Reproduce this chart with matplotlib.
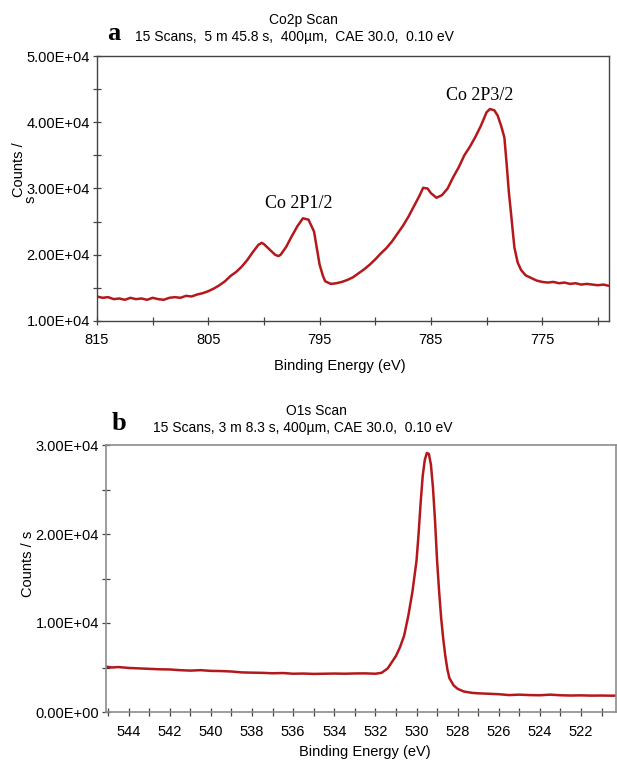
import matplotlib
matplotlib.use("Agg")
import matplotlib.pyplot as plt
from matplotlib.ticker import MultipleLocator, FuncFormatter

# ---- Co2p spectrum (binding energy eV, counts/s) ----
co_energy = [815, 814.5, 814, 813.5, 813, 812.5, 812, 811.5, 811, 810.5, 810,
             809.5, 809, 808.5, 808, 807.5, 807, 806.5, 806, 805.5, 805,
             804.5, 804, 803.5, 803, 802.5, 802, 801.5, 801, 800.5, 800.2,
             800, 799.5, 799, 798.7, 798.5, 798, 797.5, 797, 796.5, 796,
             795.5, 795.2, 795, 794.7, 794.5, 794, 793.5, 793, 792.5, 792,
             791.5, 791, 790.5, 790, 789.5, 789, 788.5, 788, 787.5, 787,
             786.5, 786, 785.7, 785.3, 785, 784.5, 784, 783.5, 783, 782.5,
             782, 781.5, 781, 780.5, 780, 779.7, 779.3, 779, 778.7, 778.4,
             778.2, 778, 777.8, 777.5, 777.2, 776.9, 776.5, 776, 775.5, 775,
             774.5, 774, 773.5, 773, 772.5, 772, 771.5, 771, 770.5, 770,
             769.5, 769]
co_counts = [13700, 13500, 13600, 13300, 13400, 13200, 13500, 13300, 13400,
             13200, 13500, 13300, 13200, 13500, 13600, 13500, 13800, 13700,
             14000, 14200, 14500, 14900, 15400, 16000, 16800, 17400, 18200,
             19200, 20400, 21500, 21800, 21600, 20800, 20000, 19800, 20000,
             21200, 22800, 24300, 25500, 25300, 23500, 20500, 18500, 16800,
             16000, 15600, 15700, 15900, 16200, 16600, 17200, 17800, 18500,
             19300, 20200, 21000, 22000, 23200, 24400, 25800, 27400, 29000,
             30100, 30000, 29300, 28600, 29000, 30000, 31700, 33200, 35000,
             36300, 37800, 39500, 41500, 42000, 41800, 41000, 39500, 37700,
             33800, 29500, 26200, 21100, 18800, 17700, 16900, 16500, 16100,
             15900, 15800, 15900, 15700, 15800, 15600, 15700, 15500, 15600,
             15500, 15400, 15500, 15300]

# ---- O1s spectrum ----
o_energy = [545.1, 544.8, 544.5, 544, 543.5, 543, 542.5, 542, 541.5, 541,
            540.5, 540, 539.5, 539, 538.5, 538, 537.5, 537, 536.5, 536,
            535.5, 535, 534.5, 534, 533.5, 533, 532.5, 532, 531.7, 531.4,
            531.2, 531.0, 530.8, 530.6, 530.4, 530.2, 530.0, 529.9, 529.8,
            529.7, 529.6, 529.5, 529.4, 529.3, 529.2, 529.1, 529.0, 528.9,
            528.8, 528.7, 528.6, 528.5, 528.4, 528.2, 528.0, 527.7, 527.3,
            527, 526.5, 526, 525.5, 525, 524.5, 524, 523.5, 523, 522.5, 522,
            521.5, 521, 520.5, 520.3]
o_counts = [5100, 5000, 5050, 4950, 4900, 4850, 4800, 4780, 4700, 4650,
            4700, 4620, 4600, 4550, 4450, 4420, 4400, 4350, 4380, 4300,
            4320, 4280, 4300, 4320, 4300, 4330, 4340, 4300, 4400, 4900,
            5600, 6300, 7300, 8600, 10800, 13500, 17000, 20000, 23500,
            26500, 28300, 29100, 29000, 27800, 25200, 21500, 17000, 13500,
            10500, 8200, 6300, 4800, 3800, 3000, 2600, 2300, 2150,
            2100, 2050, 2000, 1900, 1950, 1900, 1880, 1950, 1880, 1850, 1870,
            1840, 1850, 1830, 1840]

line_color = "#b3191c"
sans = "Liberation Sans"
serif = "Liberation Serif"
W, H = 617, 762


def sci(v, pos):
    return f"{v:.2E}"


fig = plt.figure(figsize=(W / 100, H / 100), dpi=100)
fig.patch.set_facecolor("white")

# panel a
ax1 = fig.add_axes([97 / W, 1 - 321 / H, (609 - 97) / W, (321 - 56) / H])
ax1.plot(co_energy, co_counts, color=line_color, lw=1.8)
ax1.set_xlim(815, 769)
ax1.set_ylim(10000, 50000)
ax1.xaxis.set_major_locator(MultipleLocator(10, offset=5))
ax1.xaxis.set_minor_locator(MultipleLocator(5))
ax1.yaxis.set_major_locator(MultipleLocator(10000))
ax1.yaxis.set_minor_locator(MultipleLocator(5000))
ax1.yaxis.set_major_formatter(FuncFormatter(sci))
for s in ax1.spines.values():
    s.set_color("#444444")
    s.set_linewidth(1.0)
ax1.text(796.9, 27700, "Co 2P1/2", family=serif, fontsize=13,
         ha="center", va="center")
ax1.text(780.6, 44000, "Co 2P3/2", family=serif, fontsize=13,
         ha="center", va="center")

# panel b
ax2 = fig.add_axes([106 / W, 1 - 712 / H, (616 - 106) / W, (712 - 445) / H])
ax2.plot(o_energy, o_counts, color=line_color, lw=1.8)
ax2.set_xlim(545.1, 520.3)
ax2.set_ylim(0, 30000)
ax2.xaxis.set_major_locator(MultipleLocator(2))
ax2.xaxis.set_minor_locator(MultipleLocator(1))
ax2.yaxis.set_major_locator(MultipleLocator(10000))
ax2.yaxis.set_minor_locator(MultipleLocator(5000))
ax2.yaxis.set_major_formatter(FuncFormatter(sci))
for s in ax2.spines.values():
    s.set_color("#8c8c8c")
    s.set_linewidth(1.2)

for ax in (ax1, ax2):
    ax.tick_params(which="both", direction="inout", length=6, width=0.9,
                   color="#444444", labelsize=10.5)
    ax.tick_params(axis="y", pad=2)
    ax.tick_params(axis="x", pad=6)
    for lab in ax.get_xticklabels() + ax.get_yticklabels():
        lab.set_family(sans)

# titles and labels
fig.text(303 / W, 1 - 20 / H, "Co2p Scan", family=sans, fontsize=10,
         ha="center", va="center")
fig.text(294 / W, 1 - 37 / H,
         "15 Scans,  5 m 45.8 s,  400µm,  CAE 30.0,  0.10 eV",
         family=sans, fontsize=10, ha="center", va="center")
fig.text(114 / W, 1 - 33 / H, "a", family=serif, fontsize=19,
         fontweight="bold", ha="center", va="center")
fig.text(340 / W, 1 - 366 / H, "Binding Energy (eV)", family=sans,
         fontsize=10.5, ha="center", va="center")
fig.text(19 / W, 1 - 170 / H, "Counts /", family=sans, fontsize=10.5,
         rotation=90, ha="center", va="center")
fig.text(31 / W, 1 - 199 / H, "s", family=sans, fontsize=10.5,
         rotation=90, ha="center", va="center")

fig.text(316 / W, 1 - 411 / H, "O1s Scan", family=sans, fontsize=10,
         ha="center", va="center")
fig.text(303 / W, 1 - 428 / H,
         "15 Scans, 3 m 8.3 s, 400µm, CAE 30.0,  0.10 eV",
         family=sans, fontsize=10, ha="center", va="center")
fig.text(119 / W, 1 - 423 / H, "b", family=serif, fontsize=19,
         fontweight="bold", ha="center", va="center")
fig.text(365 / W, 1 - 752 / H, "Binding Energy (eV)", family=sans,
         fontsize=10.5, ha="center", va="center")
fig.text(28 / W, 1 - 564 / H, "Counts / s", family=sans, fontsize=10.5,
         rotation=90, ha="center", va="center")

fig.savefig("out.png", dpi=100, facecolor="white")
